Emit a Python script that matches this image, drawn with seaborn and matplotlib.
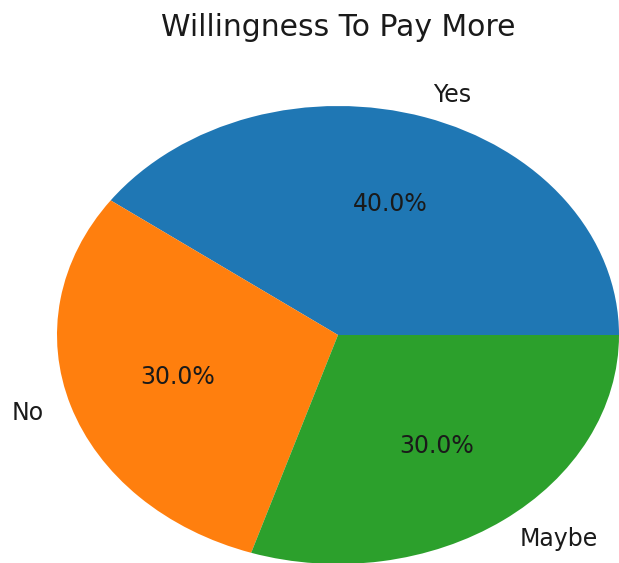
import matplotlib
matplotlib.use("Agg")
import matplotlib.pyplot as plt
import seaborn as sns

# Survey responses
answers = ["Yes", "No", "Maybe"]
shares = [40, 30, 30]

colors = sns.color_palette("tab10", 3)

W, H = 619, 563
fig = plt.figure(figsize=(W / 100, H / 100), dpi=100)

# pie centre and radii in pixels (the pie is drawn as an ellipse)
cx, cy = 338, H - 335
rx, ry = 281, 229
lim = 1.25
ax = fig.add_axes([
    (cx - lim * rx) / W,
    (cy - lim * ry) / H,
    2 * lim * rx / W,
    2 * lim * ry / H,
])

ax.pie(
    shares,
    labels=answers,
    colors=colors,
    autopct="%1.1f%%",
    startangle=0,
    textprops={"fontsize": 17, "color": "#1a1a1a"},
)
ax.set_aspect("auto")
ax.set_xlim(-lim, lim)
ax.set_ylim(-lim, lim)

fig.text(cx / W, 1 - 28 / H, "Willingness To Pay More",
         ha="center", va="center", fontsize=21.5, color="#1a1a1a")

fig.savefig("out.png", dpi=100)
